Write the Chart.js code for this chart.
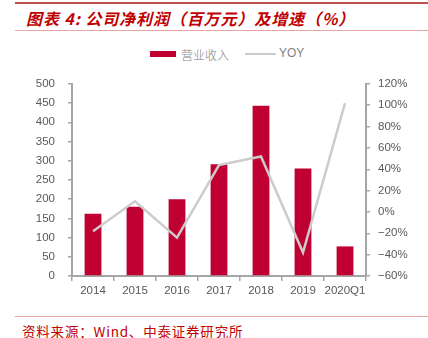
<!DOCTYPE html>
<html>
<head>
<meta charset="utf-8">
<script src="https://cdn.jsdelivr.net/npm/chart.js@4.4.0/dist/chart.umd.min.js"></script>
<style>
  body { margin: 0; background: #fff; width: 428px; height: 338px; position: relative; overflow: hidden; font-family: "Liberation Sans", Arial, sans-serif; }
  .topline { position: absolute; left: 15px; top: 2px; width: 413px; height: 2px; background: #c0504d; }
  .title { position: absolute; left: 26px; top: 8px; font-family: "Noto Sans CJK SC"; font-weight: bold; font-style: italic; font-size: 16px; letter-spacing: 0.9px; color: #c00000; line-height: 20px; white-space: nowrap; }
  .subline { position: absolute; left: 15px; top: 30px; width: 413px; height: 1px; background: #e6a5a5; }
  .legend { position: absolute; top: 45px; left: 0; font-size: 12px; color: #7f7f7f; }
  .legend span { position: absolute; white-space: nowrap; }
  .botline { position: absolute; left: 15px; top: 316px; width: 413px; height: 1px; background: #e6a5a5; }
  .source { position: absolute; left: 22px; top: 322px; font-family: "Noto Sans CJK SC"; font-size: 13.5px; letter-spacing: 0.8px; color: #c00000; line-height: 18px; white-space: nowrap; }
  #wrap { position: absolute; left: 0; top: 64px; width: 428px; height: 238px; }
</style>
</head>
<body>
<div class="topline"></div>
<div class="title">图表 4: 公司净利润（百万元）及增速（%）</div>
<div class="subline"></div>
<div class="legend">
  <span style="left:150px;top:6px;width:26px;height:6px;background:#c00032;"></span>
  <span style="left:181px;top:1px;font-family:'Noto Sans CJK SC';font-weight:300;">营业收入</span>
  <span style="left:245px;top:8px;width:31px;height:2px;background:#cccccc;"></span>
  <span style="left:279px;top:1px;">YOY</span>
</div>
<div id="wrap"><canvas id="myChart"></canvas></div>
<div class="botline"></div>
<div class="source">资料来源：Wind、中泰证券研究所</div>
<script>
const years = ["2014", "2015", "2016", "2017", "2018", "2019", "2020Q1"];
const profit = [162, 180, 200, 291, 443, 280, 77];
const yoy = [-18, 10, -24, 44, 52, -38, 102];
const leftTicks = [0, 50, 100, 150, 200, 250, 300, 350, 400, 450, 500];
const rightTicks = [-60, -40, -20, 0, 20, 40, 60, 80, 100, 120];

const axisGrey = "#a6a6a6";
const labelGrey = "#595959";

new Chart("myChart", {
  data: {
    labels: years,
    datasets: [{
      type: "line",
      label: "YOY",
      data: yoy,
      yAxisID: "y1",
      borderColor: "#cccccc",
      borderWidth: 2.5,
      pointRadius: 0,
      tension: 0,
      fill: false
    }, {
      type: "bar",
      label: "营业收入",
      data: profit,
      yAxisID: "y",
      backgroundColor: "#c00032",
      barPercentage: 0.4,
      categoryPercentage: 1
    }]
  },
  options: {
    responsive: true,
    maintainAspectRatio: false,
    animation: false,
    layout: { padding: { top: 16, left: 0, right: 0, bottom: 0 } },
    plugins: { legend: { display: false }, tooltip: { enabled: false } },
    scales: {
      x: {
        grid: { drawOnChartArea: false, offset: true, tickLength: 5, color: axisGrey, lineWidth: 1.5 },
        border: { color: axisGrey, width: 2 },
        ticks: { color: labelGrey, font: { size: 11.5, family: "Liberation Sans" }, padding: 3, maxRotation: 0, autoSkip: false },
        afterFit: function (s) { s.height = 26; }
      },
      y: {
        position: "left",
        min: 0, max: 500,
        afterBuildTicks: function (s) { s.ticks = leftTicks.map(v => ({ value: v })); },
        grid: { drawOnChartArea: false, tickLength: 4, color: axisGrey, lineWidth: 1.5 },
        border: { color: axisGrey, width: 2 },
        ticks: { color: labelGrey, font: { size: 11.5, family: "Liberation Sans" }, padding: 13 },
        afterFit: function (s) { s.width = 72; }
      },
      y1: {
        position: "right",
        min: -60, max: 120,
        afterBuildTicks: function (s) { s.ticks = rightTicks.map(v => ({ value: v })); },
        grid: { drawOnChartArea: false, tickLength: 4, color: axisGrey, lineWidth: 1.5 },
        border: { color: axisGrey, width: 2 },
        ticks: {
          color: labelGrey, font: { size: 11.5, family: "Liberation Sans" }, padding: 8,
          callback: function (v) { return (v < 0 ? "\u2212" + (-v) : v) + "%"; }
        },
        afterFit: function (s) { s.width = 62; }
      }
    }
  }
});
</script>
</body>
</html>
